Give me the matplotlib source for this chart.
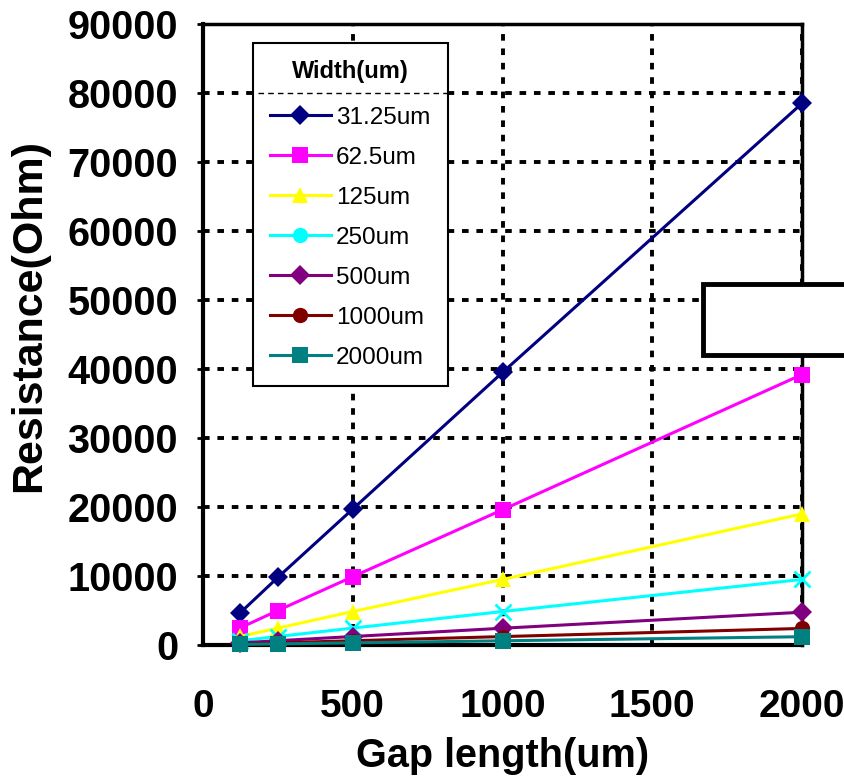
import matplotlib
matplotlib.use("Agg")
import matplotlib.pyplot as plt
from matplotlib.lines import Line2D
from matplotlib.patches import Rectangle

plt.rcParams['font.family'] = ['Liberation Sans', 'DejaVu Sans']

# Gap lengths (um) and measured resistance (Ohm) for each strip width
gap_length = [125, 250, 500, 1000, 2000]
widths = ['31.25um', '62.5um', '125um', '250um', '500um', '1000um', '2000um']
r_31_25 = [4700, 9800, 19700, 39500, 78500]
r_62_5 = [2500, 5000, 9900, 19600, 39200]
r_125 = [1250, 2450, 4850, 9500, 19000]
r_250 = [620, 1230, 2450, 4850, 9500]
r_500 = [310, 620, 1230, 2430, 4750]
r_1000 = [160, 310, 620, 1220, 2400]
r_2000 = [80, 160, 310, 610, 1200]
series = [r_31_25, r_62_5, r_125, r_250, r_500, r_1000, r_2000]

colors = ['#000080', '#FF00FF', '#FFFF00', '#00FFFF', '#800080', '#800000', '#008080']
plot_markers = ['D', 's', '^', 'x', 'D', 'o', 's']
legend_markers = ['D', 's', '^', 'o', 'D', 'o', 's']
marker_sizes = [10, 11, 12, 11, 10, 11, 12]

x_ticks = [0, 500, 1000, 1500, 2000]
y_ticks = [0, 10000, 20000, 30000, 40000, 50000, 60000, 70000, 80000, 90000]

fig = plt.figure(figsize=(8.44, 7.81), dpi=100)
ax = fig.add_axes([203 / 844, 1 - 645 / 781, (802 - 203) / 844, (645 - 24) / 781])

for vals, c, m, ms in zip(series, colors, plot_markers, marker_sizes):
    ax.plot(gap_length, vals, color=c, lw=2.2, marker=m, markersize=ms,
            markeredgewidth=2 if m == 'x' else 0, markeredgecolor=c,
            markerfacecolor=c, clip_on=False, zorder=3)

ax.set_xlim(0, 2000)
ax.set_ylim(0, 90000)
ax.set_xticks(x_ticks)
ax.set_yticks(y_ticks)
ax.set_xticklabels([str(v) for v in x_ticks], fontsize=28, fontweight='bold')
ax.set_yticklabels([str(v) for v in y_ticks], fontsize=28.5, fontweight='bold')
ax.tick_params(axis='x', length=0, pad=32)
ax.tick_params(axis='y', length=4, width=2, direction='out', pad=14)

ax.grid(True, color='black', lw=2.8, linestyle=(0, (1.7, 2.0)), zorder=1)
ax.set_axisbelow(True)
for s in ax.spines.values():
    s.set_color('black')
    s.set_linewidth(2.5)
ax.spines['bottom'].set_linewidth(3)
ax.spines['left'].set_linewidth(3)

ax.set_xlabel('Gap length(um)', fontsize=28.5, fontweight='bold', labelpad=8)
ax.set_ylabel('Resistance(Ohm)', fontsize=31, fontweight='bold', labelpad=13, y=0.531)

handles = [Line2D([], [], color=c, lw=2.2, marker=m, markersize=ms,
                  markeredgewidth=0, markerfacecolor=c)
           for c, m, ms in zip(colors, legend_markers, marker_sizes)]
leg = ax.legend(handles, widths, loc='upper left',
                bbox_to_anchor=((253 - 203) / 599, (645 - 43) / 621),
                title='Width(um)', title_fontproperties={'weight': 'bold', 'size': 17},
                prop={'size': 17.5}, frameon=True, fancybox=False,
                edgecolor='black', framealpha=1, borderpad=0.7,
                labelspacing=0.74, handlelength=2.5, handletextpad=0.22,
                borderaxespad=0)
leg.get_frame().set_linewidth(1.5)
leg.set_zorder(5)
# extra gap between the legend title and its entries
leg._legend_box.sep = 17

# thin separator under the legend title
ax.hlines(80000, 185, 818, colors='black', lw=1, linestyles=(0, (4, 3)), zorder=6)

# blank box on the right edge
fig.patches.append(Rectangle((703 / 844, 1 - 355 / 781), 150 / 844, 71 / 781,
                             transform=fig.transFigure, facecolor='white',
                             edgecolor='black', lw=3.5, zorder=10))

fig.savefig('out.png', dpi=100)
